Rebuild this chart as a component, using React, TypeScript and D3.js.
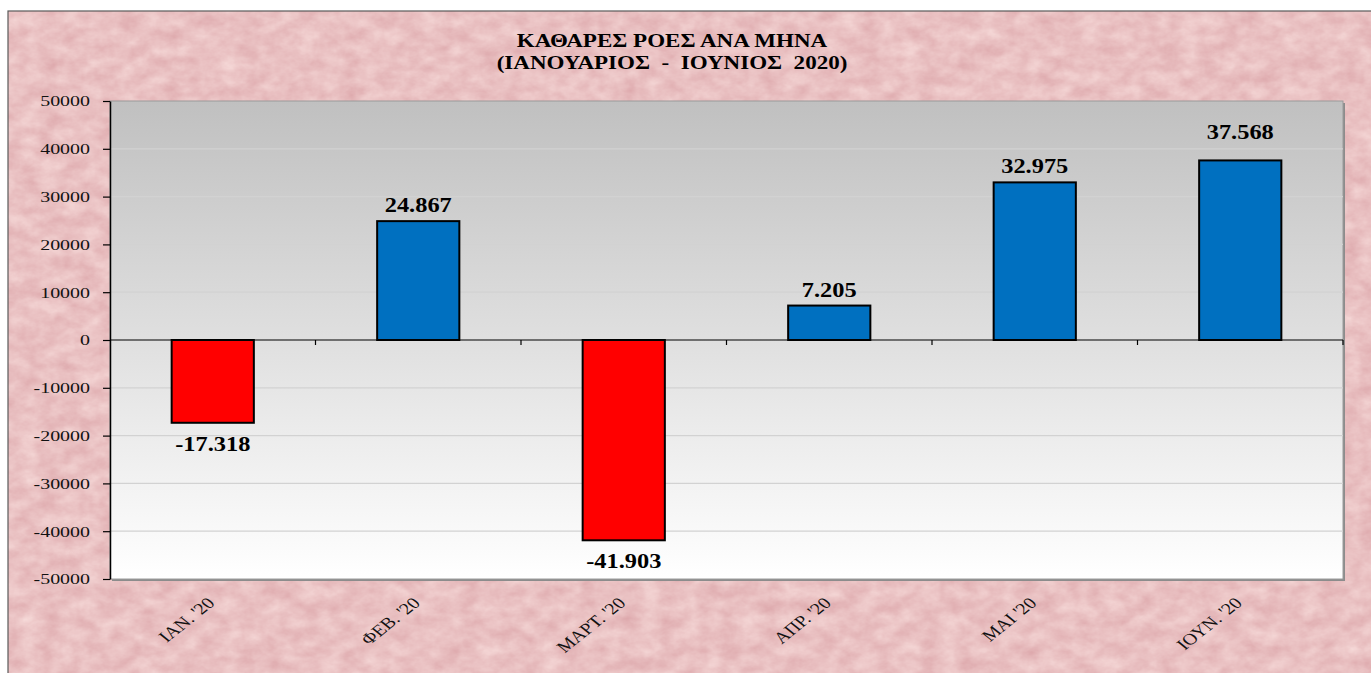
import { useEffect, useRef } from "react";
import * as d3 from "d3";

const MONTHS = ["ΙΑΝ. '20", "ΦΕΒ. '20", "ΜΑΡΤ. '20", "ΑΠΡ. '20", "ΜΑΙ '20", "ΙΟΥΝ. '20"];
const NET_FLOWS = [-17318, 24867, -41903, 7205, 32975, 37568];
const Y_TICKS = [-50000, -40000, -30000, -20000, -10000, 0, 10000, 20000, 30000, 40000, 50000];
const TITLE_LINES = ["ΚΑΘΑΡΕΣ ΡΟΕΣ ΑΝΑ ΜΗΝΑ", "(ΙΑΝΟΥΑΡΙΟΣ  -  ΙΟΥΝΙΟΣ  2020)"];

const W = 1371;
const H = 673;
const FONT = "'Liberation Serif', 'Times New Roman', serif";
// the source picture is stretched sideways, so the text is drawn wide as well
const STRETCH = 1.25;

const fmt = d3
  .formatLocale({ decimal: ",", thousands: ".", grouping: [3], currency: ["", " €"], minus: "-" })
  .format(",d");

export default function App() {
  const svgRef = useRef<SVGSVGElement>(null);

  useEffect(() => {
    const svg = svgRef.current;
    if (!svg) return;

    const m = { top: 101, right: 28, bottom: 94, left: 110 };
    const x0 = m.left;
    const x1 = W - m.right;
    const y0 = m.top;
    const y1 = H - m.bottom;

    const s = d3.select(svg);
    s.selectAll("*").remove();

    const defs = s.append("defs");

    // pink marble paper behind everything
    const marble = defs
      .append("filter")
      .attr("id", "marble")
      .attr("x", 0)
      .attr("y", 0)
      .attr("width", 1)
      .attr("height", 1)
      .attr("color-interpolation-filters", "sRGB");
    marble
      .append("feTurbulence")
      .attr("type", "fractalNoise")
      .attr("baseFrequency", "0.05 0.07")
      .attr("numOctaves", 4)
      .attr("seed", 11);
    marble
      .append("feColorMatrix")
      .attr("type", "matrix")
      .attr("values", "0.1 0 0 0 0.865  0.2 0 0 0 0.655  0.18 0 0 0 0.67  0 0 0 0 1");

    const grad = defs
      .append("linearGradient")
      .attr("id", "plotGrad")
      .attr("x1", 0)
      .attr("y1", 0)
      .attr("x2", 0)
      .attr("y2", 1);
    grad.append("stop").attr("offset", "0%").attr("stop-color", "#c0c0c0");
    grad.append("stop").attr("offset", "100%").attr("stop-color", "#ffffff");

    s.append("rect").attr("width", W).attr("height", H).attr("fill", "#ffffff");
    s.append("rect")
      .attr("x", 8)
      .attr("y", 11)
      .attr("width", W)
      .attr("height", H)
      .attr("fill", "#e8bcbf")
      .attr("filter", "url(#marble)");
    s.append("rect")
      .attr("x", 8)
      .attr("y", 11)
      .attr("width", W)
      .attr("height", H)
      .attr("fill", "none")
      .attr("stroke", "#5a5a5a")
      .attr("stroke-width", 1.2);

    const xScale = d3.scaleBand().domain(MONTHS).range([x0, x1]).paddingInner(0.6).paddingOuter(0.3);
    const yScale = d3.scaleLinear().domain([-50000, 50000]).range([y1, y0]);

    // plot area with its little drop shadow
    s.append("rect")
      .attr("x", x0 + 2)
      .attr("y", y0 + 2)
      .attr("width", x1 - x0)
      .attr("height", y1 - y0)
      .attr("fill", "#8c8c8c");
    s.append("rect")
      .attr("x", x0)
      .attr("y", y0)
      .attr("width", x1 - x0)
      .attr("height", y1 - y0)
      .attr("fill", "url(#plotGrad)")
      .attr("stroke", "#9a9a9a")
      .attr("stroke-width", 1);

    // grid
    s.append("g")
      .selectAll("line")
      .data(Y_TICKS.filter((t) => t !== 0 && Math.abs(t) !== 50000))
      .join("line")
      .attr("x1", x0)
      .attr("x2", x1)
      .attr("y1", (d) => yScale(d))
      .attr("y2", (d) => yScale(d))
      .attr("stroke", "#d2d2d2")
      .attr("stroke-width", 1.2);

    // y axis
    s.append("g")
      .attr("transform", `translate(${x0},0)`)
      .call(
        d3
          .axisLeft(yScale)
          .tickValues(Y_TICKS)
          .tickSize(7)
          .tickSizeOuter(0)
          .tickFormat((v) => String(v)),
      )
      .call((ax) => {
        ax.select(".domain").attr("stroke", "#000").attr("stroke-width", 1.5);
        ax.selectAll(".tick line").attr("stroke", "#000").attr("stroke-width", 1.2);
        ax.selectAll<SVGTextElement, number>("text")
          .attr("x", 0)
          .attr("transform", "translate(-20,0) scale(1.33,1)")
          .attr("fill", "#111")
          .attr("font-size", "15px")
          .style("font-family", FONT);
      });

    // zero line with category ticks
    const zeroY = yScale(0);
    const pad = xScale.step() * xScale.paddingOuter();
    const bounds = MONTHS.map((d) => (xScale(d) ?? 0) - pad + xScale.step());
    s.append("line")
      .attr("x1", x0)
      .attr("x2", x1)
      .attr("y1", zeroY)
      .attr("y2", zeroY)
      .attr("stroke", "#000")
      .attr("stroke-width", 1.2);
    s.append("g")
      .selectAll("line")
      .data(bounds)
      .join("line")
      .attr("x1", (d) => d)
      .attr("x2", (d) => d)
      .attr("y1", zeroY)
      .attr("y2", zeroY + 5)
      .attr("stroke", "#000")
      .attr("stroke-width", 1.2);

    const rows = MONTHS.map((month, i) => ({ month, value: NET_FLOWS[i] }));

    // bars
    s.append("g")
      .selectAll("rect")
      .data(rows)
      .join("rect")
      .attr("x", (d) => xScale(d.month) ?? 0)
      .attr("width", xScale.bandwidth())
      .attr("y", (d) => yScale(Math.max(0, d.value)))
      .attr("height", (d) => Math.abs(yScale(d.value) - zeroY))
      .attr("fill", (d) => (d.value < 0 ? "#ff0000" : "#0070c0"))
      .attr("stroke", "#000")
      .attr("stroke-width", 2);

    // value labels (the last one sits a bit higher in the original)
    s.append("g")
      .selectAll("text")
      .data(rows)
      .join("text")
      .attr("transform", (d, i) => {
        const cx = (xScale(d.month) ?? 0) + xScale.bandwidth() / 2;
        const ty = d.value < 0 ? yScale(d.value) + 28 : yScale(d.value) - (i === rows.length - 1 ? 21 : 9);
        return `translate(${cx},${ty}) scale(1.22,1)`;
      })
      .attr("text-anchor", "middle")
      .attr("font-size", "20px")
      .attr("font-weight", "bold")
      .attr("fill", "#000")
      .style("font-family", FONT)
      .text((d) => fmt(d.value));

    // month labels
    s.append("g")
      .selectAll("text")
      .data(MONTHS)
      .join("text")
      .attr("transform", (d) => {
        const cx = (xScale(d) ?? 0) + xScale.bandwidth() / 2;
        return `translate(${cx + 3},${y1 + 25}) scale(${STRETCH},1) rotate(-45)`;
      })
      .attr("text-anchor", "end")
      .attr("font-size", "16px")
      .attr("fill", "#111")
      .style("font-family", FONT)
      .text((d) => d);

    // title
    s.append("g")
      .selectAll("text")
      .data(TITLE_LINES)
      .join("text")
      .attr("transform", (_d, i) => `translate(672,${47 + i * 22}) scale(1.28,1)`)
      .attr("text-anchor", "middle")
      .attr("font-size", "18px")
      .attr("font-weight", "bold")
      .attr("fill", "#000")
      .style("font-family", FONT)
      .style("white-space", "pre")
      .text((d) => d);
  }, []);

  return <svg ref={svgRef} width={W} height={H} style={{ position: "absolute", left: 0, top: 0 }} />;
}
